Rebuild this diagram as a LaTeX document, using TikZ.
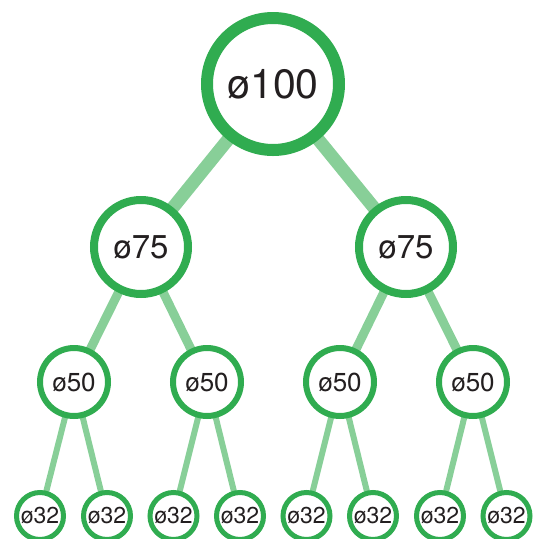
\documentclass[tikz,border=0pt]{standalone}
\usepackage{fontspec}
\setmainfont{TeX Gyre Heros}
\usetikzlibrary{backgrounds}
\definecolor{ring}{HTML}{30AC50}
\definecolor{link}{HTML}{88CF98}
\definecolor{txt}{HTML}{231F20}
\begin{document}
\begin{tikzpicture}[x=1pt,y=-1pt,
  every node/.style={text=txt},
  lvA/.style={circle,draw=ring,fill=white,line width=12pt,minimum size=132pt,inner sep=0pt,font=\fontsize{41}{41}\selectfont},
  lvB/.style={circle,draw=ring,fill=white,line width=8pt,minimum size=94pt,inner sep=0pt,font=\fontsize{33}{33}\selectfont},
  lvC/.style={circle,draw=ring,fill=white,line width=6pt,minimum size=68pt,inner sep=0pt,font=\fontsize{26}{26}\selectfont},
  lvD/.style={circle,draw=ring,fill=white,line width=5pt,minimum size=47pt,inner sep=0pt,font=\fontsize{23}{23}\selectfont},
  eA/.style={draw=link,line width=13pt},
  eB/.style={draw=link,line width=9pt},
  eC/.style={draw=link,line width=6pt}]
\useasboundingbox (0,0) rectangle (536,539);
\clip (0,0) rectangle (536,539);
\node[lvA] (r) at (273,84) {ø100};
\node[lvB] (a) at (141,247) {ø75};
\node[lvB] (b) at (406,247) {ø75};
\node[lvC] (a1) at (74,382) {ø50};
\node[lvC] (a2) at (207,382) {ø50};
\node[lvC] (b1) at (340,382) {ø50};
\node[lvC] (b2) at (473,382) {ø50};
\node[lvD] (c1) at (40,516) {ø32};
\node[lvD] (c2) at (107,516) {ø32};
\node[lvD] (c3) at (173.5,516) {ø32};
\node[lvD] (c4) at (240,516) {ø32};
\node[lvD] (c5) at (306.5,516) {ø32};
\node[lvD] (c6) at (373,516) {ø32};
\node[lvD] (c7) at (440,516) {ø32};
\node[lvD] (c8) at (506.5,516) {ø32};
\begin{scope}[on background layer]
\draw[eA] (r.center) -- (a.center);
\draw[eA] (r.center) -- (b.center);
\draw[eB] (a.center) -- (a1.center);
\draw[eB] (a.center) -- (a2.center);
\draw[eB] (b.center) -- (b1.center);
\draw[eB] (b.center) -- (b2.center);
\draw[eC] (a1.center) -- (c1.center);
\draw[eC] (a1.center) -- (c2.center);
\draw[eC] (a2.center) -- (c3.center);
\draw[eC] (a2.center) -- (c4.center);
\draw[eC] (b1.center) -- (c5.center);
\draw[eC] (b1.center) -- (c6.center);
\draw[eC] (b2.center) -- (c7.center);
\draw[eC] (b2.center) -- (c8.center);
\end{scope}
\end{tikzpicture}
\end{document}
